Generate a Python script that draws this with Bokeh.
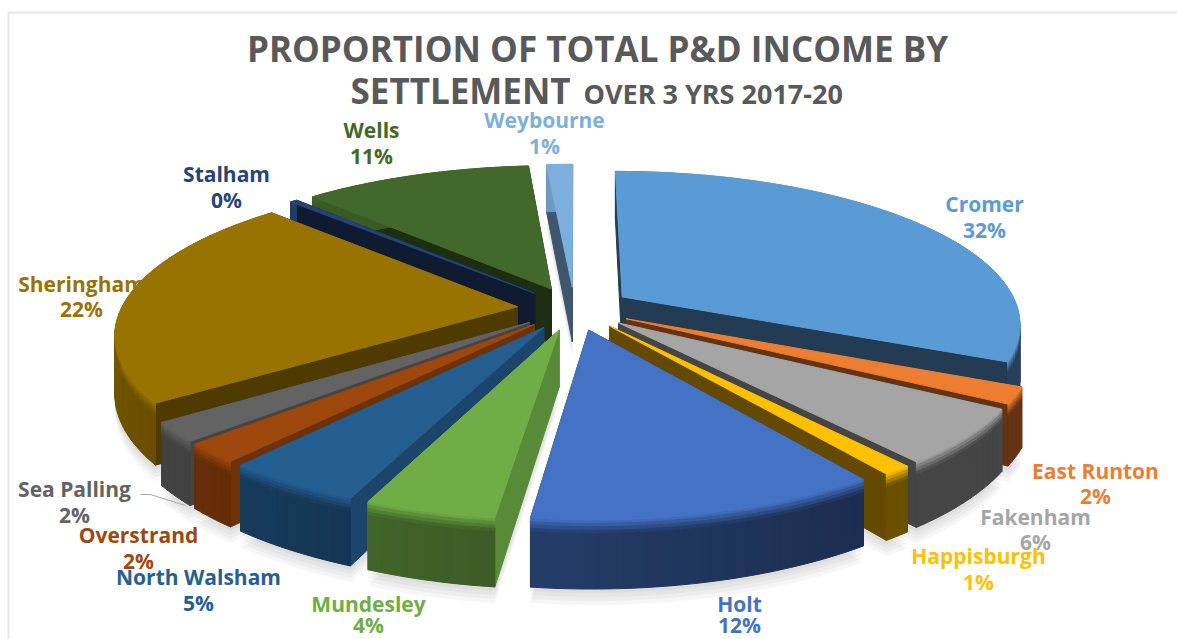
import math
from bokeh.plotting import figure
from bokeh.models import Range1d, ColumnDataSource
from bokeh.core.properties import value
from bokeh.embed import file_html
from bokeh.resources import INLINE

# ---- chart data (percent shares, clockwise from twelve o'clock) ----
settlements = ["Cromer", "East Runton", "Fakenham", "Happisburgh", "Holt", "Mundesley",
               "North Walsham", "Overstrand", "Sea Palling", "Sheringham", "Stalham", "Wells", "Weybourne"]
shares = [31.8, 1.7, 5.7, 1.0, 11.8, 4.4, 4.7, 2.0, 2.0, 22.3, 0.35, 11.0, 1.25]
share_labels = ["32%", "2%", "6%", "1%", "12%", "4%", "5%", "2%", "2%", "22%", "0%", "11%", "1%"]

# ---- styles ----
colors = ["#5B9BD5", "#ED7D31", "#A5A5A5", "#FFC000", "#4472C4", "#70AD47",
          "#255E91", "#9E480E", "#636363", "#997300", "#264478", "#43682B", "#7CAFDD"]
face_shade = [0.39, 0.42, 0.42, 0.39, 0.40, 0.80, 0.74, 0.70, 0.70, 0.52, 0.40, 0.45, 0.50]
label_x = [984, 1095, 1035, 978, 739, 368, 198, 138, 74, 81, 226, 371, 544]
label_y = [203, 470, 516, 555, 603, 603, 576, 534, 488, 283, 173, 129, 119]
pct_y = [229, 495, 541, 581, 624, 624, 602, 560, 514, 308, 199, 155, 145]

WIDTH, HEIGHT = 1177, 639
CX, CY, RX, RY = 574.0, 308.0, 396.0, 150.0
PERSP, EXPLODE, DEPTH = 0.167, 0.145, 56.0
FONT = "Open Sans"


def hex2rgb(c):
    return tuple(int(c[i:i + 2], 16) for i in (1, 3, 5))


def shade(c, k):
    r = hex2rgb(c)
    return "#%02x%02x%02x" % tuple(max(0, min(255, int(v * k))) for v in r)


def mix(c, k, t):
    """t=0 -> base colour, t=1 -> colour scaled by k."""
    return shade(c, 1 + (k - 1) * t)


def wall_light(deg):
    d = deg % 360
    if d < 150:
        return 0.42
    return 0.42 + 0.46 * min(d - 150, 150) / 150


def project(X, Y, z=0.0):
    f = 1.0 / (1.0 - PERSP * Y)
    return CX + RX * X * f, CY + (RY * Y + z) * f


def rim(mid, th, r=1.0):
    ex, ey = EXPLODE * math.sin(mid), -EXPLODE * math.cos(mid)
    return ex + r * math.sin(th), ey - r * math.cos(th)


total = sum(shares)
edges = [0.0]
for s in shares:
    edges.append(edges[-1] + s / total * 2 * math.pi)

order = sorted(range(len(shares)),
               key=lambda i: rim((edges[i] + edges[i + 1]) / 2, (edges[i] + edges[i + 1]) / 2, 0.6)[1])

sx, sy, fc = [], [], []
shx, shy = [], []
BEVEL = [0.0, 0.05, 0.10, 0.15, 0.20]


def add(poly, color):
    sx.append([p[0] for p in poly])
    sy.append([p[1] for p in poly])
    fc.append(color)


for i in order:
    a, b = edges[i], edges[i + 1]
    mid = (a + b) / 2
    col = colors[i]
    n = max(2, int(math.degrees(b - a) / 1.5))
    ths = [a + (b - a) * k / n for k in range(n + 1)]
    apex = rim(mid, 0, 0)

    # soft shadow under the slice
    base = [project(*apex, DEPTH)] + [project(*rim(mid, t), DEPTH) for t in ths]
    for off in (4, 8, 12, 16):
        shx.append([p[0] for p in base])
        shy.append([p[1] + off for p in base])

    # cut faces
    for th in (a, b):
        e = rim(mid, th)
        add([project(*apex), project(*e), project(*e, DEPTH), project(*apex, DEPTH)],
            shade(col, face_shade[i]))

    # outer wall, in vertical bands for the bevel
    for k in range(n):
        t0, t1 = ths[k], ths[k + 1]
        p0, p1 = rim(mid, t0), rim(mid, t1)
        light = wall_light(math.degrees((t0 + t1) / 2))
        for j in range(len(BEVEL)):
            z0 = BEVEL[j] * DEPTH
            z1 = (BEVEL[j + 1] if j + 1 < len(BEVEL) else 1.0) * DEPTH
            tone = min(1.0, (j + 0.5) / (len(BEVEL) - 1))
            add([project(*p0, z0), project(*p1, z0), project(*p1, z1), project(*p0, z1)],
                mix(col, light, tone))

    # top face
    add([project(*apex)] + [project(*rim(mid, t)) for t in ths], col)

p = figure(width=WIDTH, height=HEIGHT, output_backend="svg", toolbar_location=None,
           x_range=Range1d(0, WIDTH), y_range=Range1d(HEIGHT, 0),
           min_border=0, outline_line_color=None, background_fill_color="white")
p.axis.visible = False
p.grid.visible = False

# chart frame
p.line([8, 8, WIDTH], [HEIGHT, 12, 12], line_color="#E7E7E7", line_width=2)

p.patches(shx, shy, fill_color="#808080", fill_alpha=0.07, line_color=None)
p.patches(xs="x", ys="y", fill_color="c", line_color="c", line_width=1,
          source=ColumnDataSource(dict(x=sx, y=sy, c=fc)))

# leader line for Sea Palling
p.line([140, 150, 185], [494, 494, 505], line_color="#A6A6A6", line_width=1)

# title
title_color = "#595959"
p.text([597], [48], text=["PROPORTION OF TOTAL P&D INCOME BY"], text_font=value(FONT), text_font_style="bold",
       text_font_size="35px", text_color=title_color, text_align="center", text_baseline="middle")
p.text([350], [90], text=["SETTLEMENT"], text_font=value(FONT), text_font_style="bold",
       text_font_size="35px", text_color=title_color, text_align="left", text_baseline="middle")
p.text([583], [93], text=["OVER 3 YRS 2017-20"], text_font=value(FONT), text_font_style="bold",
       text_font_size="27px", text_color=title_color, text_align="left", text_baseline="middle")

# data labels
for i in range(len(settlements)):
    p.text([label_x[i]], [label_y[i]], text=[settlements[i]], text_font=value(FONT), text_font_style="bold",
           text_font_size="21px", text_color=colors[i], text_align="center", text_baseline="middle")
    p.text([label_x[i]], [pct_y[i]], text=[share_labels[i]], text_font=value(FONT), text_font_style="bold",
           text_font_size="21px", text_color=colors[i], text_align="center", text_baseline="middle")

open("out.html", "w").write(file_html(p, INLINE))
